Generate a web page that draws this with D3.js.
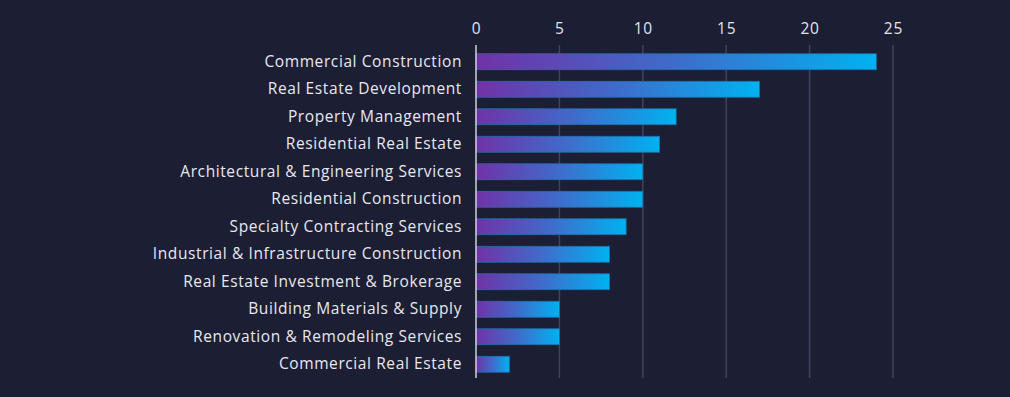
<!DOCTYPE html>
<html>
<head>
<meta charset="utf-8">
<script src="https://cdn.jsdelivr.net/npm/d3@7"></script>
<style>
  html, body { margin: 0; padding: 0; background: #1c1e34; }
  #chart { width: 1010px; height: 397px; }
</style>
</head>
<body>
<div id="chart"></div>
<script>
const categories = [
  "Commercial Construction",
  "Real Estate Development",
  "Property Management",
  "Residential Real Estate",
  "Architectural & Engineering Services",
  "Residential Construction",
  "Specialty Contracting Services",
  "Industrial & Infrastructure Construction",
  "Real Estate Investment & Brokerage",
  "Building Materials & Supply",
  "Renovation & Remodeling Services",
  "Commercial Real Estate"
];
const values = [24, 17, 12, 11, 10, 10, 9, 8, 8, 5, 5, 2];
const tickValues = [0, 5, 10, 15, 20, 25];

const W = 1010, H = 397;
const margin = { top: 48, right: 117, bottom: 19, left: 476 };
const width = W - margin.left - margin.right;
const height = H - margin.top - margin.bottom;
const font = "'Open Sans', Lato, sans-serif";

const svg = d3.select("#chart")
  .append("svg")
  .attr("width", W)
  .attr("height", H);

svg.append("rect").attr("width", W).attr("height", H).attr("fill", "#1c1e34");

const defs = svg.append("defs");
const grad = defs.append("linearGradient")
  .attr("id", "barGrad")
  .attr("x1", "0%").attr("x2", "100%")
  .attr("y1", "0%").attr("y2", "0%");
grad.append("stop").attr("offset", "0%").attr("stop-color", "#7032a6");
grad.append("stop").attr("offset", "50%").attr("stop-color", "#3f6ccb");
grad.append("stop").attr("offset", "100%").attr("stop-color", "#00b2f0");

const g = svg.append("g")
  .attr("transform", `translate(${margin.left},${margin.top})`);

const x = d3.scaleLinear().domain([0, 25]).range([0, width]);
const y = d3.scaleBand().domain(categories).range([0, height]).paddingInner(0.42).paddingOuter(0.21);

// vertical grid
g.append("g")
  .selectAll("line")
  .data(tickValues.filter((d) => d > 0))
  .join("line")
  .attr("x1", (d) => x(d)).attr("x2", (d) => x(d))
  .attr("y1", -3).attr("y2", height)
  .attr("stroke", "#40435c")
  .attr("stroke-width", 1.5);

// top axis labels
g.append("g")
  .call(d3.axisTop(x).tickValues(tickValues).tickSize(0).tickPadding(14))
  .call((a) => a.select(".domain").remove())
  .call((a) => a.selectAll("text")
    .attr("fill", "#e4e4ea")
    .attr("font-size", 15.5)
    .attr("letter-spacing", 0.8)
    .attr("font-family", font));

// bars
g.append("g")
  .selectAll("rect")
  .data(values)
  .join("rect")
  .attr("x", x(0))
  .attr("y", (d, i) => y(categories[i]))
  .attr("width", (d) => x(d) - x(0))
  .attr("height", y.bandwidth())
  .attr("fill", "url(#barGrad)")
  .attr("stroke", "#1f6fa8")
  .attr("stroke-width", 0.8);

// zero baseline
g.append("line")
  .attr("x1", x(0)).attr("x2", x(0))
  .attr("y1", -3).attr("y2", height)
  .attr("stroke", "#d0d0d8")
  .attr("stroke-width", 1.5);

// category labels
g.append("g")
  .call(d3.axisLeft(y).tickSize(0).tickPadding(14))
  .call((a) => a.select(".domain").remove())
  .call((a) => a.selectAll("text")
    .attr("fill", "#e8e8ee")
    .attr("font-size", 15.5)
    .attr("letter-spacing", 0.6)
    .attr("font-family", font));
</script>
</body>
</html>
